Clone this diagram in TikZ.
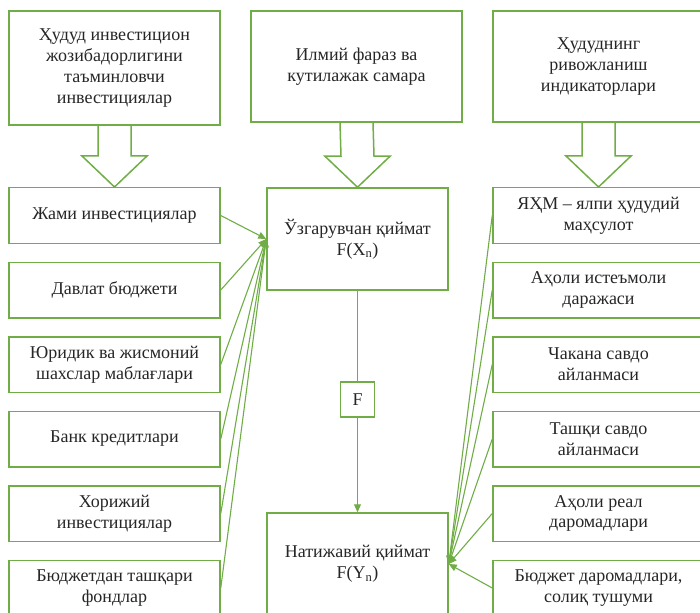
\documentclass[tikz,border=0pt]{standalone}
\usepackage{fontspec}
\setmainfont{Liberation Serif}
\usetikzlibrary{arrows.meta,calc}
\definecolor{gr}{RGB}{112,173,71}
\definecolor{tx}{RGB}{38,38,38}
\begin{document}
\begin{tikzpicture}[x=1pt,y=-1pt,
  box/.style={draw=gr,line width=1.5pt,rectangle,align=center,text=tx,
    font=\fontsize{18}{20.7}\selectfont,inner sep=0pt},
  sbox/.style={box,minimum width=211pt,minimum height=55.5pt},
  conn/.style={draw=gr,line width=1.1pt,-{Triangle[length=8pt,width=7pt]}},
  blk/.style={draw=gr,line width=1.5pt,line join=miter}]
\useasboundingbox (0,0) rectangle (700,612);
\clip (0,0) rectangle (700,612);

% top boxes
\node[box,minimum width=211pt,minimum height=114pt] (t1) at (114.5,68)
  {Ҳудуд инвестицион\\жозибадорлигини\\таъминловчи\\инвестициялар};
\node[box,minimum width=211pt,minimum height=111pt] (t2) at (356.5,66.5)
  {Илмий фараз ва\\кутилажак самара};
\node[box,minimum width=211pt,minimum height=111pt] (t3) at (598.5,66.5)
  {Ҳудуднинг\\ривожланиш\\индикаторлари};

% left column
\node[sbox] (l1) at (114.5,215.5) {Жами инвестициялар};
\node[sbox] (l2) at (114.5,290) {Давлат бюджети};
\node[sbox] (l3) at (114.5,364.5) {Юридик ва жисмоний\\шахслар маблағлари};
\node[sbox] (l4) at (114.5,439) {Банк кредитлари};
\node[sbox] (l5) at (114.5,513.5) {Хорижий\\инвестициялар};
\node[sbox] (l6) at (114.5,588) {Бюджетдан ташқари\\фондлар};

% right column
\node[sbox] (q1) at (598.5,215.5) {ЯҲМ – ялпи ҳудудий\\маҳсулот};
\node[sbox] (q2) at (598.5,290) {Аҳоли истеъмоли\\даражаси};
\node[sbox] (q3) at (598.5,364.5) {Чакана савдо\\айланмаси};
\node[sbox] (q4) at (598.5,439) {Ташқи савдо\\айланмаси};
\node[sbox] (q5) at (598.5,513.5) {Аҳоли реал\\даромадлари};
\node[sbox] (q6) at (598.5,588) {Бюджет даромадлари,\\солиқ тушуми};

% middle column
\node[box,minimum width=181pt,minimum height=102pt] (v) at (357.5,239)
  {Ўзгарувчан қиймат\\F(X\textsubscript{n})};
\node[box,minimum width=34pt,minimum height=35pt] (f) at (357.5,399.5) {F};
\node[box,minimum width=181pt,minimum height=102pt] (res) at (357.5,564)
  {Натижавий қиймат\\F(Y\textsubscript{n})};

% block arrows
\foreach \a/\b in {t1/l1,t2/v,t3/q1}{
  \draw[blk] ($(\a.south)+(-16.5,0)$) -- ($(\b.north)+(-16.5,-31)$)
    -- ($(\b.north)+(-32.5,-31)$) -- (\b.north)
    -- ($(\b.north)+(32.5,-31)$) -- ($(\b.north)+(16.5,-31)$)
    -- ($(\a.south)+(16.5,0)$);
}

% connectors
\draw[draw=gr,line width=1.1pt] (v.south) -- (f.north);
\draw[conn] (f.south) -- (res.north);
\foreach \i in {1,...,6}{
  \draw[conn] (l\i.east) -- (v.west);
  \draw[conn] (q\i.west) -- (res.east);
}
\end{tikzpicture}
\end{document}
